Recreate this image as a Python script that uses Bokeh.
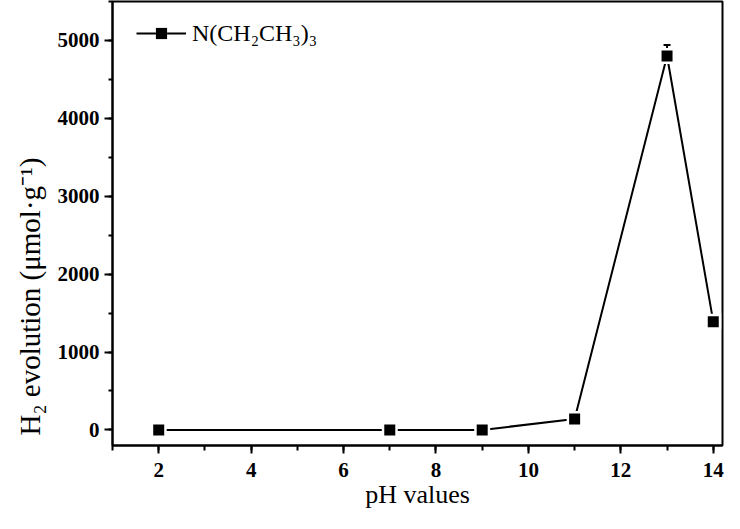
from bokeh.plotting import figure
from bokeh.models import (Range1d, SingleIntervalTicker, Whisker, ColumnDataSource,
                          Legend, LegendItem, TeeHead, Title)
from bokeh.embed import file_html
from bokeh.resources import INLINE

# ---- data ----
ph_values = [2, 7, 9, 11, 13, 14]
h2_evolution = [0, 0, 0, 140, 4800, 1390]
h2_error = [0, 0, 0, 0, 140, 0]
series_label = "N(CH\u2082CH\u2083)\u2083"
x_label = "pH values"
y_label = "H\u2082 evolution (\u03bcmol\u00b7g\u207b\u00b9)"

upper = [v + e for v, e in zip(h2_evolution, h2_error)]
src = ColumnDataSource(dict(x=ph_values, y=h2_evolution, upper=upper))

FONT = "Liberation Serif"

p = figure(width=724, height=513, output_backend="svg", toolbar_location=None,
           x_range=Range1d(1, 14.2), y_range=Range1d(-200, 5500),
           min_border_left=112, min_border_right=2, min_border_top=1,
           min_border_bottom=68)
p.grid.visible = False
p.outline_line_color = "black"
p.outline_line_width = 2
p.outline_line_alpha = 1
p.background_fill_color = "white"
p.border_fill_color = "white"

# axes
p.xaxis.ticker = SingleIntervalTicker(interval=2, num_minor_ticks=2)
p.yaxis.ticker = SingleIntervalTicker(interval=1000, num_minor_ticks=2)
for ax in (p.xaxis, p.yaxis):
    ax.axis_line_width = 2
    ax.axis_line_color = "black"
    ax.major_tick_line_width = 2
    ax.minor_tick_line_width = 2
    ax.major_tick_line_color = "black"
    ax.minor_tick_line_color = "black"
    ax.major_tick_in = 0
    ax.minor_tick_in = 0
    ax.major_label_text_font = FONT
    ax.major_label_text_font_style = "bold"
    ax.major_label_text_font_size = "21px"
    ax.major_label_text_color = "black"
    ax.axis_label_text_font = FONT
    ax.axis_label_text_font_style = "normal"
    ax.axis_label_text_font_size = "26px"
    ax.axis_label_text_color = "black"

p.xaxis.major_tick_out = 8
p.xaxis.minor_tick_out = 5
p.yaxis.major_tick_out = 8
p.yaxis.minor_tick_out = 4
p.xaxis.major_label_standoff = 9
p.yaxis.major_label_standoff = 5
p.xaxis.axis_label_standoff = 0
p.xaxis.axis_label = x_label

# y axis title, shifted down towards the bottom like the original
ytitle = Title(text=y_label, align="left", offset=10, vertical_align="bottom",
               standoff=18, text_font=FONT, text_font_size="29px",
               text_font_style="normal", text_color="black")
p.add_layout(ytitle, "left")

# error bar (behind the markers)
wh = Whisker(source=src, base="x", upper="upper", lower="y", dimension="height",
             line_width=2, line_color="black", level="underlay",
             upper_head=TeeHead(size=7, line_width=2, line_color="black"),
             lower_head=None)
p.add_layout(wh)

line_r = p.line("x", "y", source=src, line_color="black", line_width=2)
gap_r = p.scatter("x", "y", source=src, marker="square", size=16,
                  fill_color="white", line_color=None)
mark_r = p.scatter("x", "y", source=src, marker="square", size=11,
                   fill_color="black", line_color=None)

legend = Legend(items=[LegendItem(label=series_label,
                                  renderers=[line_r, gap_r, mark_r])],
                location=(24, 398), border_line_color=None,
                background_fill_alpha=0, label_text_font=FONT,
                label_text_font_size="24px", label_text_color="black",
                label_standoff=6, padding=0, margin=0, spacing=0,
                glyph_width=50, glyph_height=28)
p.add_layout(legend)

open("out.html", "w").write(file_html(p, INLINE))
